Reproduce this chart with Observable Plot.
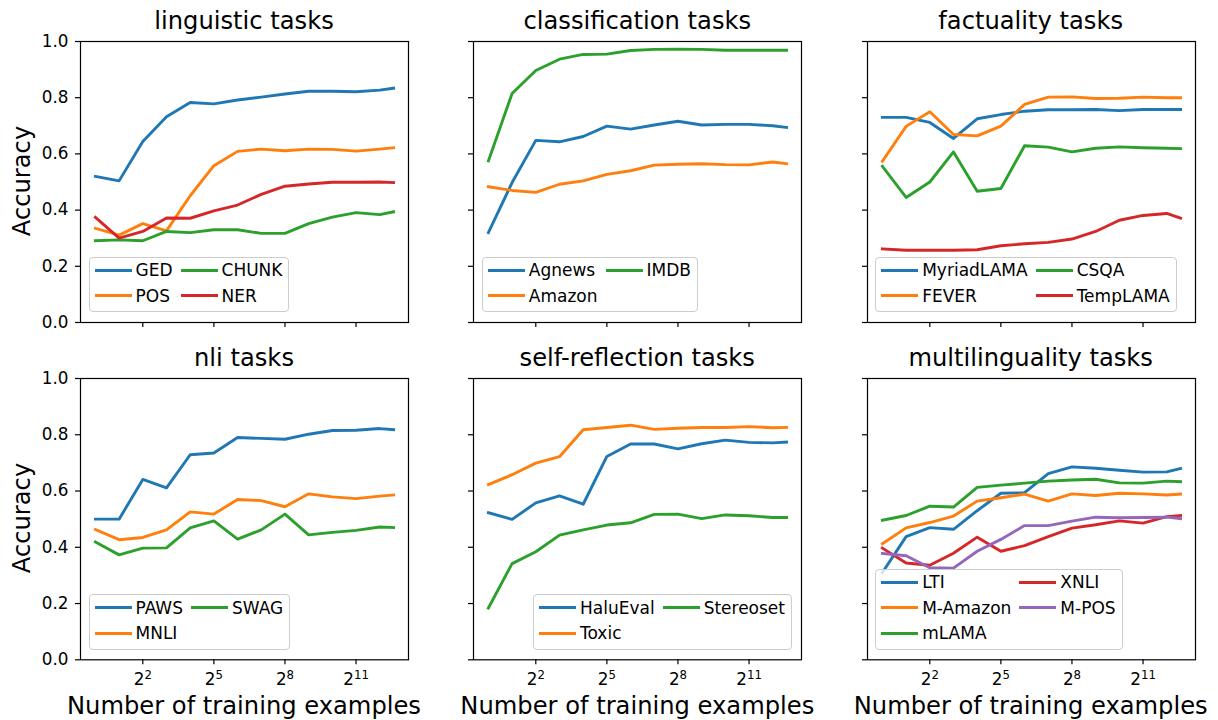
<!DOCTYPE html>
<html>
<head>
<meta charset="utf-8">
<script src="https://cdn.jsdelivr.net/npm/d3@7"></script>
<script src="https://cdn.jsdelivr.net/npm/@observablehq/plot@0.6"></script>
<style>
  body { margin: 0; background: #fff; }
  #root { position: relative; width: 1218px; height: 720px; overflow: hidden; font-family: "DejaVu Sans", sans-serif; color: #000; background: #fff; }
  .panel { position: absolute; }
  .panel svg { display: block; max-width: none; background: none; overflow: visible; }
  .title, .xlabel, .ylabel { position: absolute; font-size: 24.2px; line-height: 24px; white-space: nowrap; }
  .title, .xlabel { transform: translateX(-50%); }
  .ylabel { transform: translate(-50%, -50%) rotate(-90deg); }
  .legend { position: absolute; display: grid; grid-auto-flow: column; column-gap: 8px;
            padding: 0 6px 2.6px 5px; border: 1px solid #cccccc; border-radius: 4px;
            background: rgba(255,255,255,0.8); font-size: 17px; }
  .entry { display: flex; align-items: center; white-space: nowrap; }
  .handle { display: inline-block; width: 37px; height: 3px; margin-right: 4px; }
</style>
</head>
<body>
<div id="root"></div>
<script>
// ---------- data ----------
const trainingExamples = [1, 2, 4, 8, 16, 32, 64, 128, 256, 512, 1024, 2048, 4096, 6144];
const xTickValues = [4, 32, 256, 2048];
const xTickBase = "2";
const xTickExponents = ["2", "5", "8", "11"];
const yTickValues = [0, 0.2, 0.4, 0.6, 0.8, 1.0];
const yTickLabels = ["0.0", "0.2", "0.4", "0.6", "0.8", "1.0"];
const panelTitles = ["linguistic tasks", "classification tasks", "factuality tasks",
                     "nli tasks", "self-reflection tasks", "multilinguality tasks"];
const xAxisLabel = "Number of training examples";
const yAxisLabel = "Accuracy";

// linguistic tasks
const GED   = [0.520, 0.504, 0.644, 0.732, 0.783, 0.778, 0.792, 0.802, 0.813, 0.823, 0.823, 0.821, 0.827, 0.834];
const POS   = [0.335, 0.311, 0.352, 0.326, 0.451, 0.558, 0.609, 0.617, 0.611, 0.617, 0.616, 0.610, 0.617, 0.622];
const CHUNK = [0.291, 0.294, 0.291, 0.324, 0.320, 0.330, 0.330, 0.317, 0.317, 0.352, 0.375, 0.391, 0.384, 0.394];
const NER   = [0.374, 0.300, 0.324, 0.372, 0.371, 0.397, 0.418, 0.456, 0.485, 0.493, 0.499, 0.499, 0.500, 0.498];
// classification tasks
const Agnews = [0.320, 0.498, 0.648, 0.643, 0.662, 0.699, 0.688, 0.703, 0.716, 0.703, 0.705, 0.705, 0.700, 0.694];
const Amazon = [0.483, 0.470, 0.463, 0.492, 0.504, 0.527, 0.540, 0.560, 0.563, 0.565, 0.562, 0.561, 0.571, 0.565];
const IMDB   = [0.575, 0.815, 0.897, 0.937, 0.954, 0.955, 0.968, 0.972, 0.973, 0.972, 0.969, 0.969, 0.969, 0.969];
// factuality tasks
const MyriadLAMA = [0.730, 0.730, 0.712, 0.655, 0.725, 0.740, 0.752, 0.757, 0.757, 0.758, 0.754, 0.758, 0.758, 0.758];
const FEVER      = [0.574, 0.698, 0.750, 0.669, 0.664, 0.699, 0.776, 0.802, 0.803, 0.797, 0.798, 0.802, 0.800, 0.800];
const CSQA       = [0.556, 0.445, 0.500, 0.607, 0.467, 0.477, 0.629, 0.624, 0.607, 0.620, 0.625, 0.622, 0.620, 0.619];
const TempLAMA   = [0.262, 0.257, 0.257, 0.257, 0.259, 0.273, 0.280, 0.285, 0.297, 0.324, 0.364, 0.381, 0.388, 0.371];
// nli tasks
const PAWS = [0.500, 0.500, 0.641, 0.611, 0.729, 0.735, 0.790, 0.787, 0.784, 0.802, 0.815, 0.816, 0.822, 0.818];
const MNLI = [0.463, 0.427, 0.435, 0.462, 0.526, 0.518, 0.570, 0.566, 0.544, 0.590, 0.579, 0.573, 0.582, 0.586];
const SWAG = [0.419, 0.373, 0.397, 0.398, 0.469, 0.494, 0.429, 0.462, 0.518, 0.444, 0.453, 0.460, 0.472, 0.470];
// self-reflection tasks
const HaluEval  = [0.523, 0.499, 0.558, 0.583, 0.553, 0.723, 0.767, 0.767, 0.750, 0.768, 0.781, 0.773, 0.771, 0.774];
const Toxic     = [0.623, 0.658, 0.699, 0.722, 0.818, 0.826, 0.834, 0.819, 0.823, 0.826, 0.826, 0.829, 0.825, 0.826];
const Stereoset = [0.184, 0.342, 0.384, 0.443, 0.462, 0.479, 0.487, 0.517, 0.518, 0.502, 0.515, 0.512, 0.506, 0.506];
// multilinguality tasks
const LTI     = [0.310, 0.438, 0.470, 0.464, 0.530, 0.592, 0.594, 0.662, 0.686, 0.681, 0.674, 0.667, 0.668, 0.680];
const MAmazon = [0.413, 0.469, 0.488, 0.511, 0.564, 0.576, 0.589, 0.564, 0.590, 0.584, 0.592, 0.590, 0.586, 0.589];
const mLAMA   = [0.496, 0.513, 0.546, 0.543, 0.613, 0.621, 0.628, 0.635, 0.639, 0.642, 0.629, 0.628, 0.635, 0.633];
const XNLI    = [0.397, 0.344, 0.336, 0.379, 0.436, 0.386, 0.406, 0.438, 0.468, 0.480, 0.494, 0.486, 0.509, 0.513];
const MPOS    = [0.378, 0.370, 0.327, 0.326, 0.386, 0.428, 0.477, 0.477, 0.493, 0.507, 0.505, 0.506, 0.507, 0.502];

// ---------- styling / layout ----------
const palette = ["#1f77b4", "#ff7f0e", "#2ca02c", "#d62728", "#9467bd"];
const panels = [
  { series: [["GED", GED], ["POS", POS], ["CHUNK", CHUNK], ["NER", NER]], legend: "left" },
  { series: [["Agnews", Agnews], ["Amazon", Amazon], ["IMDB", IMDB]], legend: "left" },
  { series: [["MyriadLAMA", MyriadLAMA], ["FEVER", FEVER], ["CSQA", CSQA], ["TempLAMA", TempLAMA]], legend: "left" },
  { series: [["PAWS", PAWS], ["MNLI", MNLI], ["SWAG", SWAG]], legend: "left" },
  { series: [["HaluEval", HaluEval], ["Toxic", Toxic], ["Stereoset", Stereoset]], legend: "right" },
  { series: [["LTI", LTI], ["M-Amazon", MAmazon], ["mLAMA", mLAMA], ["XNLI", XNLI], ["M-POS", MPOS]], legend: "left" }
];
const colX = [80, 473.3, 866.7];
const frameW = 328;
const rowY = [40.7, 377.7];
const frameH = [281, 281.3];
const ML = 80, MT = 40, MB = 60, MR = 20;
const tickFont = 16.8;

// x domain: log2 extent with 5% margins (matplotlib autoscale)
const lmin = Math.log2(trainingExamples[0]);
const lmax = Math.log2(trainingExamples[trainingExamples.length - 1]);
const pad = (lmax - lmin) * 0.05;
const xDomain = [2 ** (lmin - pad), 2 ** (lmax + pad)];

const root = document.getElementById("root");
const SVGNS = "http://www.w3.org/2000/svg";

panels.forEach((p, idx) => {
  const col = idx % 3, row = Math.floor(idx / 3);
  const fx = colX[col], fy = rowY[row], fh = frameH[row];
  const showX = row === 1, showY = col === 0;

  const lines = p.series.map(([name, vals], i) =>
    Plot.line(vals.map((v, j) => ({ n: trainingExamples[j], acc: v })), {
      x: "n", y: "acc", stroke: palette[i], strokeWidth: 2.9,
      strokeLinejoin: "round", strokeLinecap: "square"
    })
  );

  const chart = Plot.plot({
    width: ML + frameW + MR,
    height: MT + fh + MB,
    marginLeft: ML, marginRight: MR, marginTop: MT, marginBottom: MB,
    style: { fontFamily: "DejaVu Sans", fontSize: tickFont + "px", color: "black", background: "none", overflow: "visible" },
    x: { type: "log", base: 2, domain: xDomain },
    y: { domain: [0, 1] },
    marks: [
      Plot.axisX({
        ticks: xTickValues, tickSize: 5, tickPadding: 8, label: null, fontSize: tickFont, strokeWidth: 1.2,
        tickFormat: d => showX ? xTickBase + "^" + xTickExponents[xTickValues.indexOf(d)] : ""
      }),
      Plot.axisY({
        ticks: yTickValues, tickSize: 5, tickPadding: 7, label: null, fontSize: tickFont, strokeWidth: 1.2,
        tickFormat: d => showY ? yTickLabels[yTickValues.indexOf(d)] : ""
      }),
      ...lines,
      Plot.frame({ stroke: "black", strokeWidth: 1.2 })
    ]
  });

  // turn "2^5" tick labels into base + raised smaller exponent (mathtext style)
  chart.querySelectorAll("text").forEach(t => {
    const s = t.textContent;
    if (/^\d+\^\d+$/.test(s)) {
      const [b, e] = s.split("^");
      while (t.firstChild) t.removeChild(t.firstChild);
      const tb = document.createElementNS(SVGNS, "tspan");
      tb.textContent = b;
      const te = document.createElementNS(SVGNS, "tspan");
      te.textContent = e;
      te.setAttribute("font-size", (tickFont * 0.7).toFixed(2));
      te.setAttribute("dy", "-6");
      t.appendChild(tb); t.appendChild(te);
    }
  });

  const holder = document.createElement("div");
  holder.className = "panel";
  holder.style.left = (fx - ML) + "px";
  holder.style.top = (fy - MT) + "px";
  holder.appendChild(chart);
  root.appendChild(holder);

  // title
  const t = document.createElement("div");
  t.className = "title";
  t.textContent = panelTitles[idx];
  t.style.left = (fx + frameW / 2) + "px";
  t.style.top = (fy - 11.5 - 20.3) + "px";
  root.appendChild(t);

  if (showX) {
    const xl = document.createElement("div");
    xl.className = "xlabel";
    xl.textContent = xAxisLabel;
    xl.style.left = (fx + frameW / 2) + "px";
    xl.style.top = (714 - 20.3) + "px";
    root.appendChild(xl);
  }
  if (showY) {
    const yl = document.createElement("div");
    yl.className = "ylabel";
    yl.textContent = yAxisLabel;
    yl.style.left = "21.7px";
    yl.style.top = (fy + fh / 2) + "px";
    root.appendChild(yl);
  }

  // legend
  const lg = document.createElement("div");
  lg.className = "legend";
  const nrows = Math.ceil(p.series.length / 2);
  lg.style.gridTemplateRows = `repeat(${nrows}, 25.5px)`;
  if (p.legend === "left") lg.style.left = (fx + 8.5) + "px";
  else lg.style.right = (1218 - (fx + frameW - 9.3)) + "px";
  lg.style.bottom = (720 - (fy + fh - 9.4)) + "px";
  p.series.forEach(([name], i) => {
    const e = document.createElement("div");
    e.className = "entry";
    const h = document.createElement("span");
    h.className = "handle";
    h.style.background = palette[i];
    const s = document.createElement("span");
    s.textContent = name;
    e.appendChild(h); e.appendChild(s);
    lg.appendChild(e);
  });
  root.appendChild(lg);
});
</script>
</body>
</html>
